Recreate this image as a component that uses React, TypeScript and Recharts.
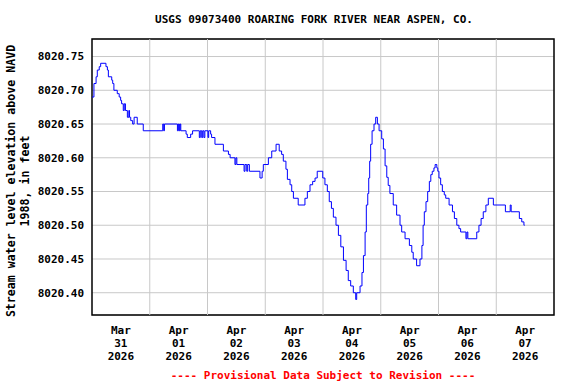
import { LineChart, Line, XAxis, YAxis, CartesianGrid, ReferenceLine, ReferenceArea } from 'recharts';

// hours since Mar 31 2026 00:00
const hours = [
  0, 0.8, 1.7, 2.2, 3.0, 3.6, 5.8, 6.4, 6.8, 8.2, 8.6, 9.1, 10.5, 11.3, 11.9, 12.3, 13.0, 13.4, 13.9, 14.7,
  15.3, 15.6, 16.1, 16.9, 17.5, 18.8, 21.3, 29.4, 29.8, 30.1, 35.5, 35.9, 36.3, 36.6, 36.9, 39.1, 39.6, 41.0,
  41.8, 44.6, 45.0, 45.6, 46.0, 46.5, 46.9, 48.2, 48.5, 49.3, 49.7, 51.1, 54.6, 56.7, 57.4, 59.4, 59.8, 60.2,
  61.5, 63.2, 63.6, 64.3, 64.7, 65.4, 69.8, 70.7, 71.2, 73.3, 74.7, 76.5, 77.8, 78.8, 79.5, 80.6, 81.2, 82.3,
  83.0, 83.7, 85.7, 88.5, 89.5, 90.6, 91.7, 92.7, 93.6, 95.9, 96.8, 97.8, 98.6, 99.5, 100.3, 101.4, 102.4,
  103.4, 104.5, 105.6, 106.5, 107.5, 108.6, 109.6, 110.0, 111.4, 112.2, 112.8, 113.5, 114.0, 114.6, 115.0,
  115.4, 115.8, 116.4, 117.2, 117.9, 118.6, 119.3, 120.4, 121.1, 121.8, 122.5, 123.1, 123.8, 125.2, 126.6,
  128.0, 128.7, 130.1, 131.9, 132.9, 133.5, 134.9, 136.3, 137.1, 137.6, 138.1, 138.8, 139.5, 140.2, 140.8,
  141.4, 142.1, 142.6, 143.3, 143.7, 144.2, 144.9, 145.6, 146.4, 147.0, 148.4, 149.8, 150.6, 151.6, 152.5,
  153.2, 155.4, 155.8, 156.2, 159.9, 160.8, 161.7, 162.6, 163.7, 164.7, 166.8, 171.8, 173.8, 174.2, 177.6,
  178.6, 179.5, 179.8,
];

const elevation = [
  8020.69, 8020.71, 8020.72, 8020.73, 8020.735, 8020.74, 8020.735, 8020.73, 8020.72, 8020.715, 8020.71, 8020.70,
  8020.695, 8020.69, 8020.685, 8020.68, 8020.67, 8020.68, 8020.67, 8020.66, 8020.67, 8020.66, 8020.655, 8020.65,
  8020.66, 8020.65, 8020.64, 8020.65, 8020.64, 8020.65, 8020.64, 8020.65, 8020.64, 8020.65, 8020.64, 8020.635,
  8020.63, 8020.635, 8020.64, 8020.63, 8020.64, 8020.63, 8020.64, 8020.63, 8020.64, 8020.63, 8020.64, 8020.635,
  8020.63, 8020.62, 8020.61, 8020.605, 8020.60, 8020.59, 8020.60, 8020.59, 8020.59, 8020.58, 8020.59, 8020.58,
  8020.59, 8020.58, 8020.57, 8020.58, 8020.59, 8020.60, 8020.61, 8020.62, 8020.61, 8020.605, 8020.595, 8020.583,
  8020.568, 8020.56, 8020.55, 8020.54, 8020.53, 8020.54, 8020.55, 8020.56, 8020.565, 8020.57, 8020.58, 8020.57,
  8020.56, 8020.55, 8020.535, 8020.525, 8020.512, 8020.50, 8020.485, 8020.468, 8020.448, 8020.433, 8020.418,
  8020.41, 8020.40, 8020.39, 8020.40, 8020.41, 8020.43, 8020.455, 8020.49, 8020.53, 8020.547, 8020.57, 8020.595,
  8020.62, 8020.64, 8020.65, 8020.66, 8020.65, 8020.64, 8020.628, 8020.613, 8020.588, 8020.571, 8020.559,
  8020.547, 8020.53, 8020.515, 8020.50, 8020.49, 8020.48, 8020.47, 8020.46, 8020.45, 8020.44, 8020.45, 8020.47,
  8020.50, 8020.52, 8020.535, 8020.55, 8020.565, 8020.575, 8020.58, 8020.585, 8020.59, 8020.585, 8020.58,
  8020.57, 8020.56, 8020.55, 8020.545, 8020.54, 8020.53, 8020.52, 8020.51, 8020.50, 8020.495, 8020.49, 8020.48,
  8020.49, 8020.48, 8020.49, 8020.50, 8020.51, 8020.52, 8020.53, 8020.54, 8020.53, 8020.52, 8020.53, 8020.52,
  8020.51, 8020.505, 8020.50, 8020.50,
];

const labelHours = [12, 36, 60, 84, 108, 132, 156, 180];
const labelMonths = ['Mar', 'Apr', 'Apr', 'Apr', 'Apr', 'Apr', 'Apr', 'Apr'];
const labelDays = ['31', '01', '02', '03', '04', '05', '06', '07'];
const labelYear = '2026';
const midnights = [24, 48, 72, 96, 120, 144, 168];
const yTicks = [8020.4, 8020.45, 8020.5, 8020.55, 8020.6, 8020.65, 8020.7, 8020.75];

const data = hours.map((h, i) => ({ h, v: elevation[i] }));

const FONT = '"DejaVu Sans Mono", monospace';
const X_MIN = 0;
const X_MAX = 192;
const Y_MIN = 8020.367;
const Y_MAX = 8020.776;

const DateTick = ({ x, y, payload }: any) => {
  const i = labelHours.indexOf(payload.value);
  const lines = [labelMonths[i], labelDays[i], labelYear];
  return (
    <text x={x} y={y} textAnchor="middle" fontFamily={FONT} fontWeight="bold" fontSize={11} fill="#000">
      {lines.map((l, k) => (
        <tspan key={k} x={x} dy={k === 0 ? 11 : 13}>
          {l}
        </tspan>
      ))}
    </text>
  );
};

const YLabel = () => (
  <g fontFamily={FONT} fontWeight="bold" fontSize={11.6} fill="#000">
    <text x={11} y={181} transform="rotate(-90 11 181)" textAnchor="middle" dominantBaseline="central">
      Stream water level elevation above NAVD
    </text>
    <text x={25} y={181} transform="rotate(-90 25 181)" textAnchor="middle" dominantBaseline="central">
      1988, in feet
    </text>
  </g>
);

export default function App() {
  return (
    <div style={{ position: 'absolute', left: 0, top: 0, width: 576, height: 384, background: '#fff' }}>
      <div
        style={{
          position: 'absolute',
          top: 13,
          left: 314,
          transform: 'translateX(-50%)',
          whiteSpace: 'nowrap',
          fontFamily: FONT,
          fontWeight: 'bold',
          fontSize: 11,
          color: '#000',
        }}
      >
        USGS 09073400 ROARING FORK RIVER NEAR ASPEN, CO.
      </div>
      <LineChart width={576} height={384} data={data} margin={{ top: 39, right: 22, left: 0, bottom: 9 }}>
        <CartesianGrid vertical={false} stroke="#c8c8c8" />
        {midnights.map((m) => (
          <ReferenceLine key={m} x={m} stroke="#c8c8c8" />
        ))}
        <XAxis
          dataKey="h"
          type="number"
          domain={[X_MIN, X_MAX]}
          ticks={labelHours}
          tick={<DateTick />}
          tickLine={false}
          axisLine={false}
          height={60}
          interval={0}
          allowDataOverflow
        />
        <YAxis
          type="number"
          domain={[Y_MIN, Y_MAX]}
          ticks={yTicks}
          tickFormatter={(v: number) => v.toFixed(2)}
          tick={{ fontFamily: FONT, fontWeight: 'bold', fontSize: 11, fill: '#000' }}
          tickLine={false}
          axisLine={false}
          width={92}
          interval={0}
          allowDataOverflow
          label={{ content: () => <YLabel /> }}
        />
        <ReferenceArea x1={X_MIN} x2={X_MAX} y1={Y_MIN} y2={Y_MAX} fill="none" stroke="#000" strokeWidth={1.5} fillOpacity={0} />
        <Line
          type="stepAfter"
          dataKey="v"
          stroke="#0000ff"
          strokeWidth={1}
          dot={false}
          isAnimationActive={false}
        />
      </LineChart>
      <div
        style={{
          position: 'absolute',
          top: 369,
          left: 323,
          transform: 'translateX(-50%)',
          whiteSpace: 'nowrap',
          fontFamily: FONT,
          fontWeight: 'bold',
          fontSize: 11,
          color: '#ff0000',
        }}
      >
        ---- Provisional Data Subject to Revision ----
      </div>
    </div>
  );
}
